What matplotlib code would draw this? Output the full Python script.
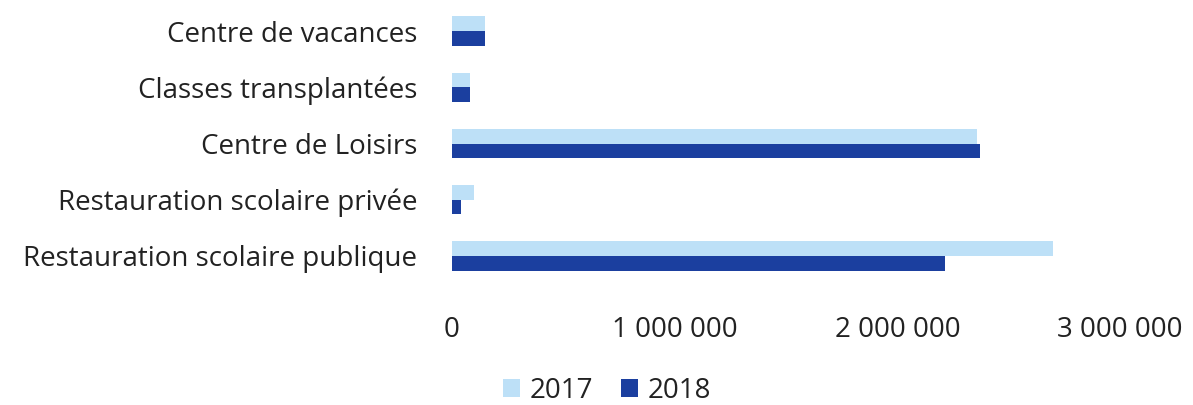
import matplotlib.pyplot as plt
import numpy as np

categories = ["Restauration scolaire publique", "Restauration scolaire privée",
              "Centre de Loisirs", "Classes transplantées", "Centre de vacances"]
values_2017 = [2700000, 100000, 2360000, 80000, 150000]
values_2018 = [2215000, 40000, 2370000, 80000, 150000]
series_labels = ["2017", "2018"]
xticks = [0, 1000000, 2000000, 3000000]
xtick_labels = ["0", "1 000 000", "2 000 000", "3 000 000"]

plt.rcParams['font.family'] = ['Open Sans', 'DejaVu Sans']

fig = plt.figure(figsize=(11.93, 4.05), dpi=100)
ax = fig.add_axes([452/1193, 1 - 284/405, (1120-452)/1193, 281/405])

y = np.arange(len(categories))
h = 0.26
ax.barh(y + h/2, values_2017, height=h, color='#bde0f7', label=series_labels[0])
ax.barh(y - h/2, values_2018, height=h, color='#1b3f9f', label=series_labels[1])

fs = 20
ax.set_xlim(0, 3000000)
ax.set_ylim(-0.5, 4.5)
ax.set_yticks(y)
ax.set_yticklabels(categories, fontsize=fs, color='#222222')
ax.set_xticks(xticks)
ax.set_xticklabels(xtick_labels, fontsize=fs, color='#222222')
ax.tick_params(axis='both', length=0)
ax.tick_params(axis='y', pad=25)
ax.tick_params(axis='x', pad=23)
for s in ax.spines.values():
    s.set_visible(False)

leg = fig.legend(loc='center', bbox_to_anchor=(607/1193, 1 - 391/405), ncol=2,
                 frameon=False, fontsize=fs, handlelength=0.6, handleheight=0.6,
                 handletextpad=0.35, columnspacing=1.0, borderpad=0)
for t in leg.get_texts():
    t.set_color('#222222')

fig.savefig('out.png', dpi=100)
